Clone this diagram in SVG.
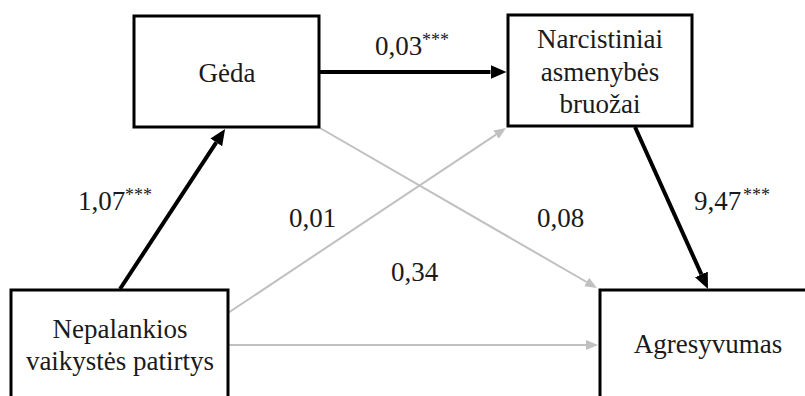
<svg xmlns="http://www.w3.org/2000/svg" width="805" height="396" viewBox="0 0 805 396">
<style>
.box{fill:#fff;stroke:#000;stroke-width:3}
.t{font-size:27px;fill:#1a1a1a}
.lbl{font-size:27px;fill:#1a1a1a}
.sup{font-size:18px;fill:#1a1a1a}
.blk{stroke:#000;stroke-width:4;fill:none}
.gry{stroke:#c0c0c0;stroke-width:2;fill:none}
</style>
<defs>
<marker id="ab" viewBox="0 -7 16 14" markerWidth="16" markerHeight="14" refX="0" refY="0" orient="auto" markerUnits="userSpaceOnUse">
<path d="M0,-7 L16,0 L0,7 z" fill="#000"/>
</marker>
<marker id="ag" viewBox="0 -5 12 10" markerWidth="12" markerHeight="10" refX="0" refY="0" orient="auto" markerUnits="userSpaceOnUse">
<path d="M0,-5 L12,0 L0,5 z" fill="#c0c0c0"/>
</marker>
</defs>
<rect width="805" height="396" fill="#fff"/>
<g id="connectors">
<line class="gry" x1="228" y1="313" x2="496" y2="134.6" marker-end="url(#ag)"/>
<line class="gry" x1="320" y1="128" x2="586.6" y2="282" marker-end="url(#ag)"/>
<line class="gry" x1="228" y1="345" x2="586" y2="345" marker-end="url(#ag)"/>
<line class="blk" x1="120" y1="289" x2="216.3" y2="142.4" marker-end="url(#ab)"/>
<line class="blk" x1="319" y1="72" x2="490.5" y2="72" marker-end="url(#ab)"/>
<line class="blk" x1="635" y1="127" x2="701.4" y2="274.4" marker-end="url(#ab)"/>
</g>
<g id="labels" font-family="Liberation Serif, Times New Roman, serif">
<text class="lbl" x="375" y="55">0,03</text><text class="sup" x="422" y="46">***</text>
<text class="lbl" x="78" y="210">1,07</text><text class="sup" x="125" y="201">***</text>
<text class="lbl" x="694" y="210">9,47</text><text class="sup" x="743" y="201">***</text>
<text class="lbl" x="289" y="227">0,01</text>
<text class="lbl" x="537" y="227">0,08</text>
<text class="lbl" x="391" y="281">0,34</text>
</g>
<g id="geda" font-family="Liberation Serif, Times New Roman, serif">
<rect class="box" x="134" y="16" width="185" height="111"/>
<text class="t" x="227" y="82" text-anchor="middle">Gėda</text>
</g>
<g id="narcistiniai" font-family="Liberation Serif, Times New Roman, serif">
<rect class="box" x="508" y="15" width="184" height="111"/>
<text class="t" x="600" y="48" text-anchor="middle">Narcistiniai</text>
<text class="t" x="600" y="81" text-anchor="middle">asmenybės</text>
<text class="t" x="600" y="113" text-anchor="middle">bruožai</text>
</g>
<g id="nepalankios" font-family="Liberation Serif, Times New Roman, serif">
<rect class="box" x="11" y="290" width="217" height="130"/>
<text class="t" x="120" y="338" text-anchor="middle">Nepalankios</text>
<text class="t" x="120" y="370" text-anchor="middle">vaikystės patirtys</text>
</g>
<g id="agresyvumas" font-family="Liberation Serif, Times New Roman, serif">
<rect class="box" x="600" y="290" width="230" height="130"/>
<text class="t" x="708" y="353" text-anchor="middle">Agresyvumas</text>
</g>
</svg>
